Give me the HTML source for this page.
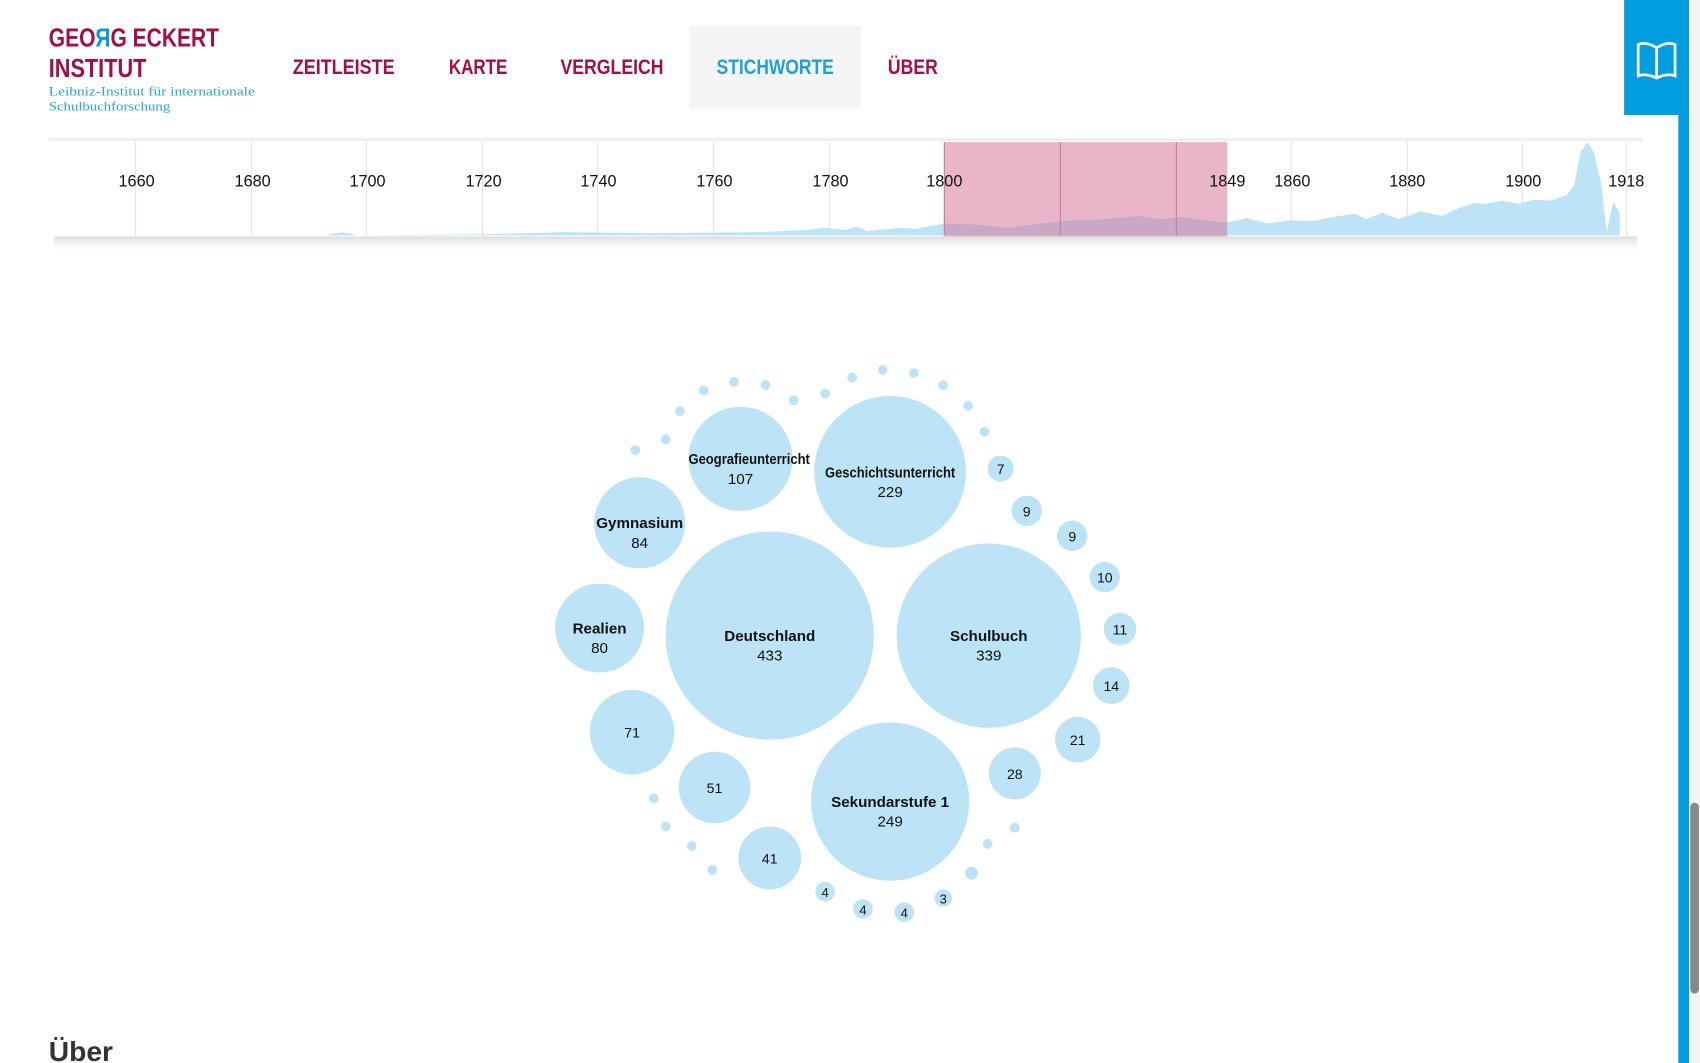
<!DOCTYPE html>
<html><head><meta charset="utf-8"><style>
html,body{margin:0;padding:0;background:#fff;overflow:hidden}
svg{display:block}
text{font-family:"Liberation Sans",sans-serif}
</style></head><body>
<svg width="1700" height="1063" viewBox="0 0 1568 980" preserveAspectRatio="none" xmlns="http://www.w3.org/2000/svg">
<defs><linearGradient id="sh" x1="0" y1="0" x2="0" y2="1"><stop offset="0" stop-color="#ddd"/><stop offset="1" stop-color="#fff" stop-opacity="0"/></linearGradient></defs>
<rect width="1568" height="980" fill="#fff"/>
<text x="45" y="43" font-size="24" font-weight="bold" fill="#a50d45" textLength="157" lengthAdjust="spacingAndGlyphs">GEO<tspan fill="#009ee0">Я</tspan>G ECKERT</text>
<text x="45" y="71" font-size="24" font-weight="bold" fill="#a50d45" textLength="90" lengthAdjust="spacingAndGlyphs">INSTITUT</text>
<text x="45" y="88" font-size="11.5" fill="#2aa3dc" style="font-family:'Liberation Serif',serif" textLength="190" lengthAdjust="spacingAndGlyphs">Leibniz-Institut für internationale</text>
<text x="45" y="102" font-size="11.5" fill="#2aa3dc" style="font-family:'Liberation Serif',serif" textLength="112" lengthAdjust="spacingAndGlyphs">Schulbuchforschung</text>
<rect x="636" y="24" width="158" height="76" fill="#f5f5f5"/>
<g font-size="20" font-weight="bold">
<text x="270" y="68" fill="#a50d45" textLength="94" lengthAdjust="spacingAndGlyphs">ZEITLEISTE</text>
<text x="414" y="68" fill="#a50d45" textLength="54" lengthAdjust="spacingAndGlyphs">KARTE</text>
<text x="517" y="68" fill="#a50d45" textLength="95" lengthAdjust="spacingAndGlyphs">VERGLEICH</text>
<text x="661" y="68" fill="#1ea0d8" textLength="108" lengthAdjust="spacingAndGlyphs">STICHWORTE</text>
<text x="819" y="68" fill="#a50d45" textLength="46" lengthAdjust="spacingAndGlyphs">ÜBER</text>
</g>
<rect x="1498" y="0" width="52" height="106" fill="#009ee0"/>
<rect x="1548" y="0" width="10" height="980" fill="#009ee0"/>
<rect x="1558" y="0" width="10" height="980" fill="#f4f4f4"/>
<rect x="1559" y="740" width="8" height="176" rx="4" fill="#888"/>
<g fill="none" stroke="#fff" stroke-width="2.5"><path d="M1528 44 Q1518 38 1511 41 L1511 70 Q1518 67 1528 72 Q1538 67 1545 70 L1545 41 Q1538 38 1528 44 Z M1528 44 L1528 72"/></g>
<rect x="45" y="127" width="1470" height="3" fill="#f0f0f0"/>
<rect x="50" y="218" width="1460" height="16" fill="url(#sh)"/>
<g stroke="#e3e3e3" stroke-width="1">
<line x1="125" y1="131" x2="125" y2="217"/><line x1="232" y1="131" x2="232" y2="217"/><line x1="338" y1="131" x2="338" y2="217"/><line x1="445" y1="131" x2="445" y2="217"/><line x1="551" y1="131" x2="551" y2="217"/><line x1="658" y1="131" x2="658" y2="217"/><line x1="765" y1="131" x2="765" y2="217"/><line x1="1191" y1="131" x2="1191" y2="217"/><line x1="1298" y1="131" x2="1298" y2="217"/><line x1="1404" y1="131" x2="1404" y2="217"/><line x1="1500" y1="131" x2="1500" y2="217"/>
</g>
<path fill="#bde4f6" d="M60 217 L300 217 L315 214 L330 217 L450 216 L520 214 L600 215 L700 214 L745 212 L760 210 L780 212 L790 209 L800 213 L830 210 L845 211 L860 208 L871 206 L900 207 L930 210 L960 206 L990 203 L1020 202 L1050 199 L1070 202 L1090 200 L1110 203 L1132 205 L1150 201 L1170 206 L1190 203 L1210 204 L1230 200 L1250 197 L1260 202 L1275 196 L1290 202 L1310 195 L1330 199 L1345 192 L1360 187 L1370 188 L1385 185 L1400 188 L1415 184 L1430 185 L1445 180 L1452 170 L1458 140 L1464 131 L1470 140 L1477 170 L1482 214 L1488 186 L1494 196 L1494 217 Z"/>
<rect x="871" y="131" width="261" height="87" fill="#d46d93" opacity="0.5"/>
<g stroke="#c47c98" stroke-width="1"><line x1="871" y1="131" x2="871" y2="217"/><line x1="978" y1="131" x2="978" y2="217"/><line x1="1085" y1="131" x2="1085" y2="217"/></g>
<g font-size="15" fill="#111" text-anchor="middle">
<text x="126" y="172">1660</text><text x="233" y="172">1680</text><text x="339" y="172">1700</text><text x="446" y="172">1720</text><text x="552" y="172">1740</text><text x="659" y="172">1760</text><text x="766" y="172">1780</text><text x="871" y="172">1800</text><text x="1132" y="172">1849</text><text x="1192" y="172">1860</text><text x="1298" y="172">1880</text><text x="1405" y="172">1900</text><text x="1500" y="172">1918</text>
</g>
<g fill="#bde4f6">
<circle cx="710" cy="586" r="96"/><circle cx="912" cy="586" r="85"/><circle cx="821" cy="435" r="70"/><circle cx="821" cy="739" r="73"/>
<circle cx="683" cy="423" r="48"/><circle cx="590" cy="482" r="42"/><circle cx="553" cy="579" r="41"/><circle cx="583" cy="675" r="39"/>
<circle cx="659" cy="726" r="33"/><circle cx="710" cy="791" r="29"/><circle cx="936" cy="713" r="24"/><circle cx="994" cy="682" r="21"/>
<circle cx="1025" cy="632" r="17"/><circle cx="1033" cy="580" r="15"/><circle cx="1019" cy="532" r="14"/><circle cx="989" cy="494" r="14"/>
<circle cx="947" cy="471" r="14"/><circle cx="923" cy="432" r="12"/>
<circle cx="761" cy="822" r="9"/><circle cx="796" cy="838" r="9"/><circle cx="834" cy="841" r="9"/><circle cx="870" cy="828" r="8"/>
<circle cx="586" cy="415" r="4.5"/><circle cx="614" cy="405" r="4.5"/><circle cx="627" cy="379" r="4.5"/><circle cx="649" cy="360" r="4.5"/><circle cx="677" cy="352" r="4.5"/><circle cx="706" cy="355" r="4.5"/><circle cx="732" cy="369" r="4.5"/><circle cx="761" cy="363" r="4.5"/><circle cx="786" cy="348" r="4.5"/><circle cx="814" cy="341" r="4.5"/><circle cx="843" cy="344" r="4.5"/><circle cx="870" cy="355" r="4.5"/><circle cx="893" cy="374" r="4.5"/><circle cx="908" cy="398" r="4.5"/>
<circle cx="603" cy="736" r="4.5"/><circle cx="614" cy="762" r="4.5"/><circle cx="638" cy="780" r="4.5"/><circle cx="657" cy="802" r="4.5"/><circle cx="896" cy="805" r="6"/><circle cx="911" cy="778" r="4.5"/><circle cx="936" cy="763" r="4.5"/>
</g>
<g fill="#111" text-anchor="middle" font-size="14">
<text x="710" y="591" font-weight="bold">Deutschland</text><text x="710" y="609">433</text>
<text x="912" y="591" font-weight="bold">Schulbuch</text><text x="912" y="609">339</text>
<text x="821" y="440" font-weight="bold" textLength="120" lengthAdjust="spacingAndGlyphs">Geschichtsunterricht</text><text x="821" y="458">229</text>
<text x="821" y="744" font-weight="bold">Sekundarstufe 1</text><text x="821" y="762">249</text>
<text x="691" y="428" font-weight="bold" textLength="112" lengthAdjust="spacingAndGlyphs">Geografieunterricht</text><text x="683" y="446">107</text>
<text x="590" y="487" font-weight="bold">Gymnasium</text><text x="590" y="505">84</text>
<text x="553" y="584" font-weight="bold">Realien</text><text x="553" y="602">80</text>
<g font-size="13"><text x="583" y="680">71</text><text x="659" y="731">51</text><text x="710" y="796">41</text><text x="936" y="718">28</text><text x="994" y="687">21</text><text x="1025" y="637">14</text><text x="1033" y="585">11</text><text x="1019" y="537">10</text><text x="989" y="499">9</text><text x="947" y="476">9</text><text x="923" y="437">7</text>
<text x="761" y="827" font-size="12">4</text><text x="796" y="843" font-size="12">4</text><text x="834" y="846" font-size="12">4</text><text x="870" y="833" font-size="12">3</text></g>
</g>
<text x="45" y="978" font-size="26" font-weight="bold" fill="#333">Über</text>
</svg>
</body></html>
